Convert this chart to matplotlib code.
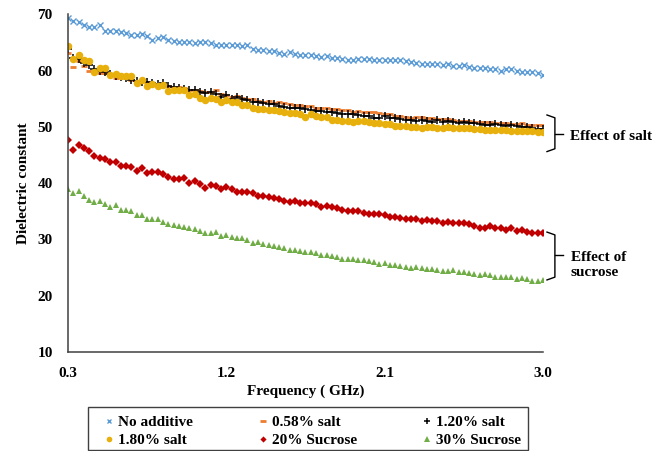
"""Dielectric constant vs frequency: effect of salt and sucrose."""

import matplotlib

matplotlib.use("Agg")
import matplotlib.pyplot as plt
import numpy as np
from matplotlib.patches import Rectangle

plt.rcParams["font.family"] = ["Liberation Serif", "DejaVu Serif"]
plt.rcParams["font.weight"] = "bold"

# measurement sweep, 0.3 - 3.0 GHz in 0.03 GHz steps
freq_ghz = np.round(np.linspace(0.3, 3.0, 91), 2)

no_additive = [
    69.3, 68.8, 68.7, 68.1, 67.8, 67.8, 68.0, 67.1, 67.1, 67.1,
    66.9, 66.6, 66.3, 66.3, 66.4, 66.1, 65.4, 65.7, 65.9, 65.4,
    65.3, 65.1, 65.0, 65.0, 64.8, 65.0, 65.1, 64.8, 64.6, 64.6,
    64.6, 64.6, 64.5, 64.3, 64.5, 63.9, 63.7, 63.7, 63.5, 63.4,
    63.1, 63.0, 63.2, 62.9, 62.8, 62.8, 62.8, 62.5, 62.4, 62.5,
    62.3, 62.2, 62.0, 61.9, 61.9, 62.0, 62.0, 62.0, 61.9, 61.8,
    61.9, 61.9, 61.8, 61.9, 61.6, 61.5, 61.4, 61.2, 61.2, 61.2,
    61.1, 60.9, 61.2, 60.8, 60.8, 60.9, 60.6, 60.4, 60.5, 60.5,
    60.2, 60.2, 59.9, 60.2, 60.2, 59.9, 59.7, 59.7, 59.7, 59.5,
    59.2,
]

salt_058 = [
    63.1, 60.7, 61.6, 60.8, 59.9, 59.8, 59.6, 59.5, 59.2, 58.7,
    58.9, 58.7, 58.4, 58.2, 58.2, 57.9, 57.7, 57.6, 57.6, 57.2,
    57.1, 57.1, 56.9, 56.5, 56.6, 56.4, 56.1, 56.2, 56.5, 55.9,
    55.7, 55.3, 55.4, 55.2, 55.0, 54.9, 54.6, 54.4, 54.6, 54.25,
    54.4, 54.25, 54.0, 53.85, 53.85, 53.7, 53.7, 53.4, 53.4, 53.4,
    53.1, 53.1, 53.0, 53.0, 52.7, 52.8, 52.7, 52.7, 52.6, 52.4,
    52.25, 52.2, 51.9, 51.9, 51.8, 51.6, 51.8, 51.8, 51.5, 51.6,
    51.3, 51.3, 51.3, 51.2, 51.1, 51.1, 51.0, 50.9, 50.8, 50.8,
    50.8, 50.7, 50.7, 50.6, 50.5, 50.5, 50.6, 50.3, 50.3, 50.3,
    50.3,
]

salt_120 = [
    63.8, 62.3, 62.0, 61.4, 61.0, 60.2, 60.0, 59.8, 59.4, 59.1,
    58.9, 58.7, 58.3, 58.1, 58.0, 57.9, 57.8, 57.6, 57.8, 57.3,
    57.0, 56.9, 56.8, 56.6, 56.5, 56.2, 56.0, 56.1, 55.8, 55.3,
    55.6, 55.0, 55.3, 54.9, 54.7, 54.4, 54.4, 54.15, 54.0, 54.0,
    53.7, 53.55, 53.4, 53.3, 53.3, 53.1, 53.0, 52.85, 52.8, 52.7,
    52.7, 52.4, 52.25, 52.2, 52.2, 52.1, 51.9, 51.9, 51.65, 51.65,
    51.9, 51.6, 51.5, 51.4, 51.2, 51.2, 51.1, 51.2, 51.1, 50.9,
    51.2, 50.9, 51.1, 50.9, 50.7, 50.8, 50.7, 50.6, 50.5, 50.3,
    50.3, 50.5, 50.3, 50.1, 50.3, 50.1, 49.9, 49.9, 49.7, 49.6,
    49.6,
]

salt_180 = [
    64.3, 62.0, 62.7, 61.8, 61.7, 59.8, 60.4, 60.5, 59.2, 59.3,
    59.1, 59.0, 59.0, 57.8, 58.4, 57.3, 57.6, 57.2, 57.4, 56.4,
    56.5, 56.6, 56.5, 55.6, 55.8, 55.2, 54.7, 55.1, 55.0, 54.4,
    54.7, 54.4, 54.4, 53.85, 53.85, 53.4, 53.25, 53.25, 52.95, 53.07,
    52.8, 52.66, 52.4, 52.5, 52.3, 51.7, 52.3, 51.9, 51.7, 51.8,
    51.2, 51.2, 51.06, 51.0, 50.9, 51.0, 51.06, 50.9, 50.7, 50.7,
    50.5, 50.5, 50.2, 50.2, 50.2, 49.9, 50.0, 49.8, 49.9, 50.0,
    49.8, 49.8, 49.9, 49.8, 49.8, 49.7, 49.7, 49.6, 49.6, 49.5,
    49.5, 49.5, 49.4, 49.4, 49.3, 49.3, 49.2, 49.2, 49.2, 49.1,
    49.0,
]

sucrose_20 = [
    47.6, 45.9, 46.7, 46.2, 45.7, 44.8, 44.5, 44.3, 43.8, 43.8,
    43.0, 43.0, 42.8, 42.2, 42.6, 41.8, 42.0, 41.9, 41.7, 41.0,
    40.8, 40.7, 40.9, 40.05, 40.4, 39.8, 39.2, 39.6, 39.5, 38.9,
    39.3, 38.9, 38.5, 38.5, 38.35, 38.2, 37.75, 37.7, 37.6, 37.3,
    37.1, 36.9, 36.7, 36.8, 36.4, 36.5, 36.4, 36.2, 35.7, 35.9,
    35.7, 35.5, 35.3, 35.0, 35.0, 35.0, 34.7, 34.6, 34.5, 34.5,
    34.3, 34.0, 33.9, 33.85, 33.7, 33.55, 33.7, 33.3, 33.4, 33.25,
    33.25, 32.95, 33.1, 32.95, 32.85, 33.0, 32.7, 32.4, 32.1, 32.1,
    32.4, 32.0, 32.1, 31.7, 32.1, 31.5, 31.7, 31.4, 31.2, 31.2,
    31.2,
]

sucrose_30 = [
    38.9, 38.2, 38.6, 37.7, 37.0, 36.7, 36.9, 36.2, 35.7, 36.1,
    35.2, 35.2, 35.1, 34.3, 34.3, 33.6, 33.6, 33.55, 33.1, 32.7,
    32.6, 32.4, 32.2, 32.1, 31.8, 31.5, 31.2, 31.1, 31.3, 30.6,
    30.8, 30.4, 30.3, 30.2, 29.9, 29.4, 29.6, 29.2, 29.0, 28.9,
    28.6, 28.5, 28.2, 28.15, 27.9, 27.8, 27.8, 27.6, 27.2, 27.2,
    27.0, 26.9, 26.5, 26.6, 26.5, 26.3, 26.3, 26.15, 26.0, 25.7,
    25.85, 25.4, 25.4, 25.3, 25.15, 25.0, 25.15, 24.9, 24.7, 24.7,
    24.6, 24.4, 24.4, 24.6, 24.15, 24.15, 24.0, 23.85, 23.7, 23.85,
    23.7, 23.4, 23.4, 23.3, 23.25, 22.96, 23.1, 22.9, 22.65, 22.65,
    22.8,
]

x_ticks = [0.3, 1.2, 2.1, 3.0]
y_ticks = [10, 20, 30, 40, 50, 60, 70]

fig = plt.figure(figsize=(6.67, 4.51), dpi=100)
ax = fig.add_axes([0.102, 0.2195, 0.712, 0.749])

h_no = ax.plot(freq_ghz, no_additive, ls="none", marker="x", ms=4.6, mew=1.0,
               color="#5B9BD5", label="No additive")[0]
h_058 = ax.plot(freq_ghz, salt_058, ls="none", marker="_", ms=5.0, mew=2.0,
                color="#ED7D31", label="0.58% salt")[0]
h_120 = ax.plot(freq_ghz, salt_120, ls="none", marker="+", ms=5.5, mew=1.1,
                color="black", label="1.20% salt")[0]
h_180 = ax.plot(freq_ghz, salt_180, ls="none", marker="o", ms=5.4, mew=0,
                color="#E8B00C", label="1.80% salt")[0]
h_s20 = ax.plot(freq_ghz, sucrose_20, ls="none", marker="D", ms=4.2, mew=0,
                color="#C00000", label="20% Sucrose")[0]
h_s30 = ax.plot(freq_ghz, sucrose_30, ls="none", marker="^", ms=5.0, mew=0,
                color="#70AD47", label="30% Sucrose")[0]

ax.set_xlim(0.3, 3.0)
ax.set_ylim(10, 70)
ax.set_xticks(x_ticks)
ax.set_xticklabels([f"{t:.1f}" for t in x_ticks])
ax.set_yticks(y_ticks)
ax.tick_params(length=0, labelsize=11, pad=11)
for lab in ax.get_xticklabels() + ax.get_yticklabels():
    lab.set_fontweight("bold")

for side in ("top", "right"):
    ax.spines[side].set_visible(False)
for side in ("left", "bottom"):
    ax.spines[side].set_color("#404040")
    ax.spines[side].set_linewidth(1.1)

ax.set_xlabel("Frequency ( GHz)", fontsize=11, fontweight="bold", labelpad=3)
ax.set_ylabel("Dielectric constant", fontsize=11, fontweight="bold", labelpad=5)


def brace(y_top, y_bot, y_mid):
    x0, x1, x2 = 3.023, 3.068, 3.114
    ax.plot([x0, x1, x1, x0], [y_top, y_top - 0.5, y_bot + 0.5, y_bot],
            color="black", lw=1.0, clip_on=False)
    ax.plot([x1, x2], [y_mid, y_mid], color="black", lw=1.0, clip_on=False)


brace(52.1, 45.6, 48.7)
ax.text(3.153, 48.2, "Effect of salt", fontsize=11, fontweight="bold",
        va="center", ha="left", clip_on=False)
brace(31.3, 22.8, 27.2)
ax.text(3.159, 25.4, "Effect of\nsucrose", fontsize=11, fontweight="bold",
        va="center", ha="left", linespacing=1.2, clip_on=False)

# legend: Excel lays it out row by row, matplotlib fills columns
handles = [h_no, h_180, h_058, h_s20, h_120, h_s30]
leg = fig.legend(handles=handles, labels=[h.get_label() for h in handles],
                 ncol=3, loc="upper left", bbox_to_anchor=(0.157, 0.079),
                 frameon=False, fontsize=11, markerscale=0.75, handlelength=0.6,
                 handletextpad=0.3, columnspacing=4.25, labelspacing=0.3,
                 borderpad=0, borderaxespad=0)
for t in leg.get_texts():
    t.set_fontweight("bold")
fig.patches.append(Rectangle((0.132, 0.003), 0.66, 0.094, transform=fig.transFigure,
                             fill=False, edgecolor="#404040", lw=1.0))

fig.savefig("out.png", dpi=100)
